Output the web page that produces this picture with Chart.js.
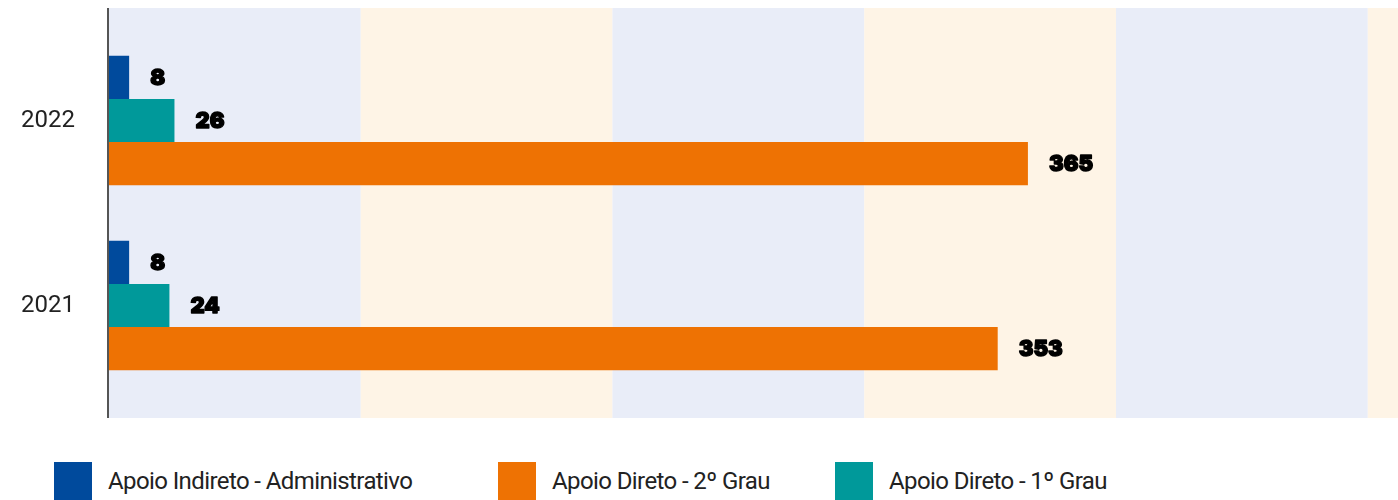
<!DOCTYPE html>
<html>
<head>
<meta charset="utf-8">
<script src="https://cdn.jsdelivr.net/npm/chart.js@4/dist/chart.umd.min.js"></script>
<style>
  html, body { margin: 0; padding: 0; background: #fff; }
  #wrap { position: relative; width: 1398px; height: 500px; overflow: hidden; }
  #box { position: absolute; left: 0; top: 0; width: 1398px; height: 440px; }
  #legend { position: absolute; left: 0; top: 462px; height: 38px; width: 1398px;
            font-family: 'Roboto', sans-serif; font-size: 24px; letter-spacing: -0.6px; color: #222; }
  .item { position: absolute; top: 0; height: 38px; display: flex; align-items: center; white-space: nowrap; }
  .sw { width: 38px; height: 38px; margin-right: 16px; }
</style>
</head>
<body>
<div id="wrap">
  <div id="box"><canvas id="c"></canvas></div>
  <div id="legend"></div>
</div>
<script>
// categorias e séries
const years = ['2022', '2021'];
const indireto = [8, 8];      // Apoio Indireto - Administrativo
const direto1 = [26, 24];     // Apoio Direto - 1º Grau
const direto2 = [365, 353];   // Apoio Direto - 2º Grau

const BLUE = '#004a9c';
const TEAL = '#00999a';
const ORANGE = '#ee7203';
const BAND_A = '#e9edf8';
const BAND_B = '#fef4e6';
const BAND_STEP = 100;
const X_MAX = 512;

// faixas de fundo + linha do eixo
const bandsPlugin = {
  id: 'bands',
  beforeDraw(chart) {
    const { ctx, chartArea, scales } = chart;
    const x = scales.x;
    const top = chartArea.top - 20, bottom = chartArea.bottom + 20;
    ctx.save();
    let i = 0;
    for (let v = x.min; v < x.max; v += BAND_STEP, i++) {
      const x0 = x.getPixelForValue(v);
      const x1 = x.getPixelForValue(Math.min(v + BAND_STEP, x.max));
      ctx.fillStyle = i % 2 === 0 ? BAND_A : BAND_B;
      ctx.fillRect(x0, top, x1 - x0, bottom - top);
    }
    ctx.strokeStyle = '#555';
    ctx.lineWidth = 2;
    ctx.beginPath();
    ctx.moveTo(chartArea.left - 1, top);
    ctx.lineTo(chartArea.left - 1, bottom);
    ctx.stroke();
    ctx.restore();
  }
};

// rótulos de valor (traço extra p/ ficar mais pesado)
const valueLabels = {
  id: 'valueLabels',
  afterDatasetsDraw(chart) {
    const { ctx } = chart;
    ctx.save();
    ctx.font = "900 22px 'Inter', 'DejaVu Sans', sans-serif";
    ctx.fillStyle = '#000';
    ctx.strokeStyle = '#000';
    ctx.lineWidth = 1.4;
    ctx.lineJoin = 'round';
    ctx.textAlign = 'left';
    ctx.textBaseline = 'middle';
    chart.data.datasets.forEach((ds, di) => {
      chart.getDatasetMeta(di).data.forEach((bar, j) => {
        const t = String(ds.data[j]);
        ctx.strokeText(t, bar.x + 21, bar.y + 1);
        ctx.fillText(t, bar.x + 21, bar.y + 1);
      });
    });
    ctx.restore();
  }
};

const chart = new Chart(document.getElementById('c'), {
  type: 'bar',
  data: {
    labels: years,
    datasets: [
      { label: 'Apoio Indireto - Administrativo', data: indireto, backgroundColor: BLUE },
      { label: 'Apoio Direto - 1º Grau', data: direto1, backgroundColor: TEAL },
      { label: 'Apoio Direto - 2º Grau', data: direto2, backgroundColor: ORANGE }
    ]
  },
  options: {
    indexAxis: 'y',
    responsive: true,
    maintainAspectRatio: false,
    animation: false,
    layout: { padding: { top: 28, bottom: 42, right: 0, left: 0 } },
    datasets: { bar: { barPercentage: 1, categoryPercentage: 0.7, borderWidth: 0 } },
    plugins: { legend: { display: false }, tooltip: { enabled: false } },
    scales: {
      x: { display: false, min: 0, max: X_MAX },
      y: {
        grid: { display: false, drawTicks: false },
        border: { display: false },
        ticks: { color: '#222', padding: 34, font: { family: "'Roboto', sans-serif", size: 24 } },
        afterFit(scale) {
          scale.width = 109;
          scale.paddingTop = 0;
          scale.paddingBottom = 0;
        }
      }
    }
  },
  plugins: [bandsPlugin, valueLabels]
});

// legenda (ordem do original)
const legendOrder = [0, 2, 1];
const legendLeft = [54, 498, 835];
const legend = document.getElementById('legend');
legendOrder.forEach((di, k) => {
  const ds = chart.data.datasets[di];
  const item = document.createElement('div');
  item.className = 'item';
  item.style.left = legendLeft[k] + 'px';
  item.innerHTML = '<span class="sw" style="background:' + ds.backgroundColor + '"></span><span>' + ds.label + '</span>';
  legend.appendChild(item);
});
</script>
</body>
</html>
